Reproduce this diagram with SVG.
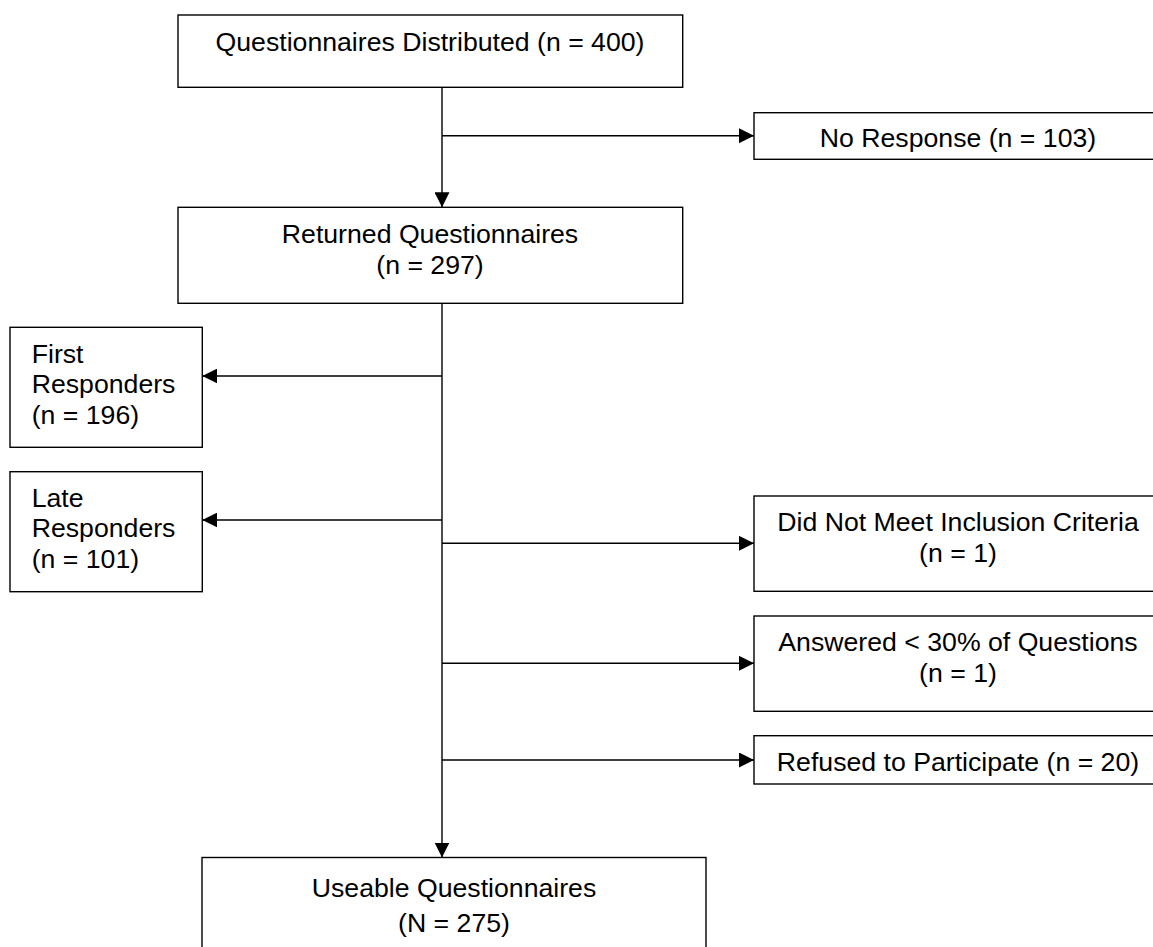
<svg xmlns="http://www.w3.org/2000/svg" width="1153" height="947" viewBox="0 0 1153 947">
<style>
.box{fill:#ffffff;stroke:#000000;stroke-width:1.4}
.t{font-family:"Liberation Sans",Arial,sans-serif;font-size:26.67px;fill:#000000}
.c{text-anchor:middle}
.ln{stroke:#000000;stroke-width:1.4;fill:none;marker-end:url(#ah)}
</style>
<defs>
<marker id="ah" viewBox="0 0 15 15" refX="15" refY="7.5" markerWidth="15" markerHeight="15" markerUnits="userSpaceOnUse" orient="auto">
<path d="M0,0 L15,7.5 L0,15 z" fill="#000000"/>
</marker>
</defs>
<rect width="1153" height="947" fill="#ffffff"/>
<g id="connectors">
<line class="ln" x1="442" y1="87.3" x2="442" y2="207.3"/>
<line class="ln" x1="442" y1="135.7" x2="754" y2="135.7"/>
<line class="ln" x1="442" y1="303.3" x2="442" y2="857.5"/>
<line class="ln" x1="442" y1="376" x2="202.3" y2="376"/>
<line class="ln" x1="442" y1="520" x2="202.3" y2="520"/>
<line class="ln" x1="442" y1="543.3" x2="754" y2="543.3"/>
<line class="ln" x1="442" y1="663.3" x2="754" y2="663.3"/>
<line class="ln" x1="442" y1="760" x2="754" y2="760"/>
</g>
<g id="distributed">
<rect class="box" x="178" y="15" width="504.7" height="72.3"/>
<text class="t c" x="430" y="51">Questionnaires Distributed (n = 400)</text>
</g>
<g id="no-response">
<rect class="box" x="754" y="112.7" width="408" height="46.6"/>
<text class="t c" x="958" y="146.7">No Response (n = 103)</text>
</g>
<g id="returned">
<rect class="box" x="178" y="207.3" width="504.7" height="96"/>
<text class="t c" x="430" y="242.7">Returned Questionnaires</text>
<text class="t c" x="430" y="274">(n = 297)</text>
</g>
<g id="first-responders">
<rect class="box" x="10" y="327.3" width="192.3" height="120"/>
<text class="t" x="31.7" y="362.7">First</text>
<text class="t" x="31.7" y="393.4">Responders</text>
<text class="t" x="31.7" y="424">(n = 196)</text>
</g>
<g id="late-responders">
<rect class="box" x="10" y="471.7" width="192.3" height="120"/>
<text class="t" x="31.7" y="506.7">Late</text>
<text class="t" x="31.7" y="537.4">Responders</text>
<text class="t" x="31.7" y="568">(n = 101)</text>
</g>
<g id="inclusion">
<rect class="box" x="754" y="496" width="408" height="95.3"/>
<text class="t c" x="958" y="530.7">Did Not Meet Inclusion Criteria</text>
<text class="t c" x="958" y="561.7">(n = 1)</text>
</g>
<g id="answered">
<rect class="box" x="754" y="616" width="408" height="95.3"/>
<text class="t c" x="958" y="650.7">Answered &lt; 30% of Questions</text>
<text class="t c" x="958" y="681.7">(n = 1)</text>
</g>
<g id="refused">
<rect class="box" x="754" y="735.7" width="408" height="48.3"/>
<text class="t c" x="958" y="770.7">Refused to Participate (n = 20)</text>
</g>
<g id="useable">
<rect class="box" x="202" y="857.5" width="504" height="120"/>
<text class="t c" x="454" y="897.3">Useable Questionnaires</text>
<text class="t c" x="454" y="932.4">(N = 275)</text>
</g>
</svg>
